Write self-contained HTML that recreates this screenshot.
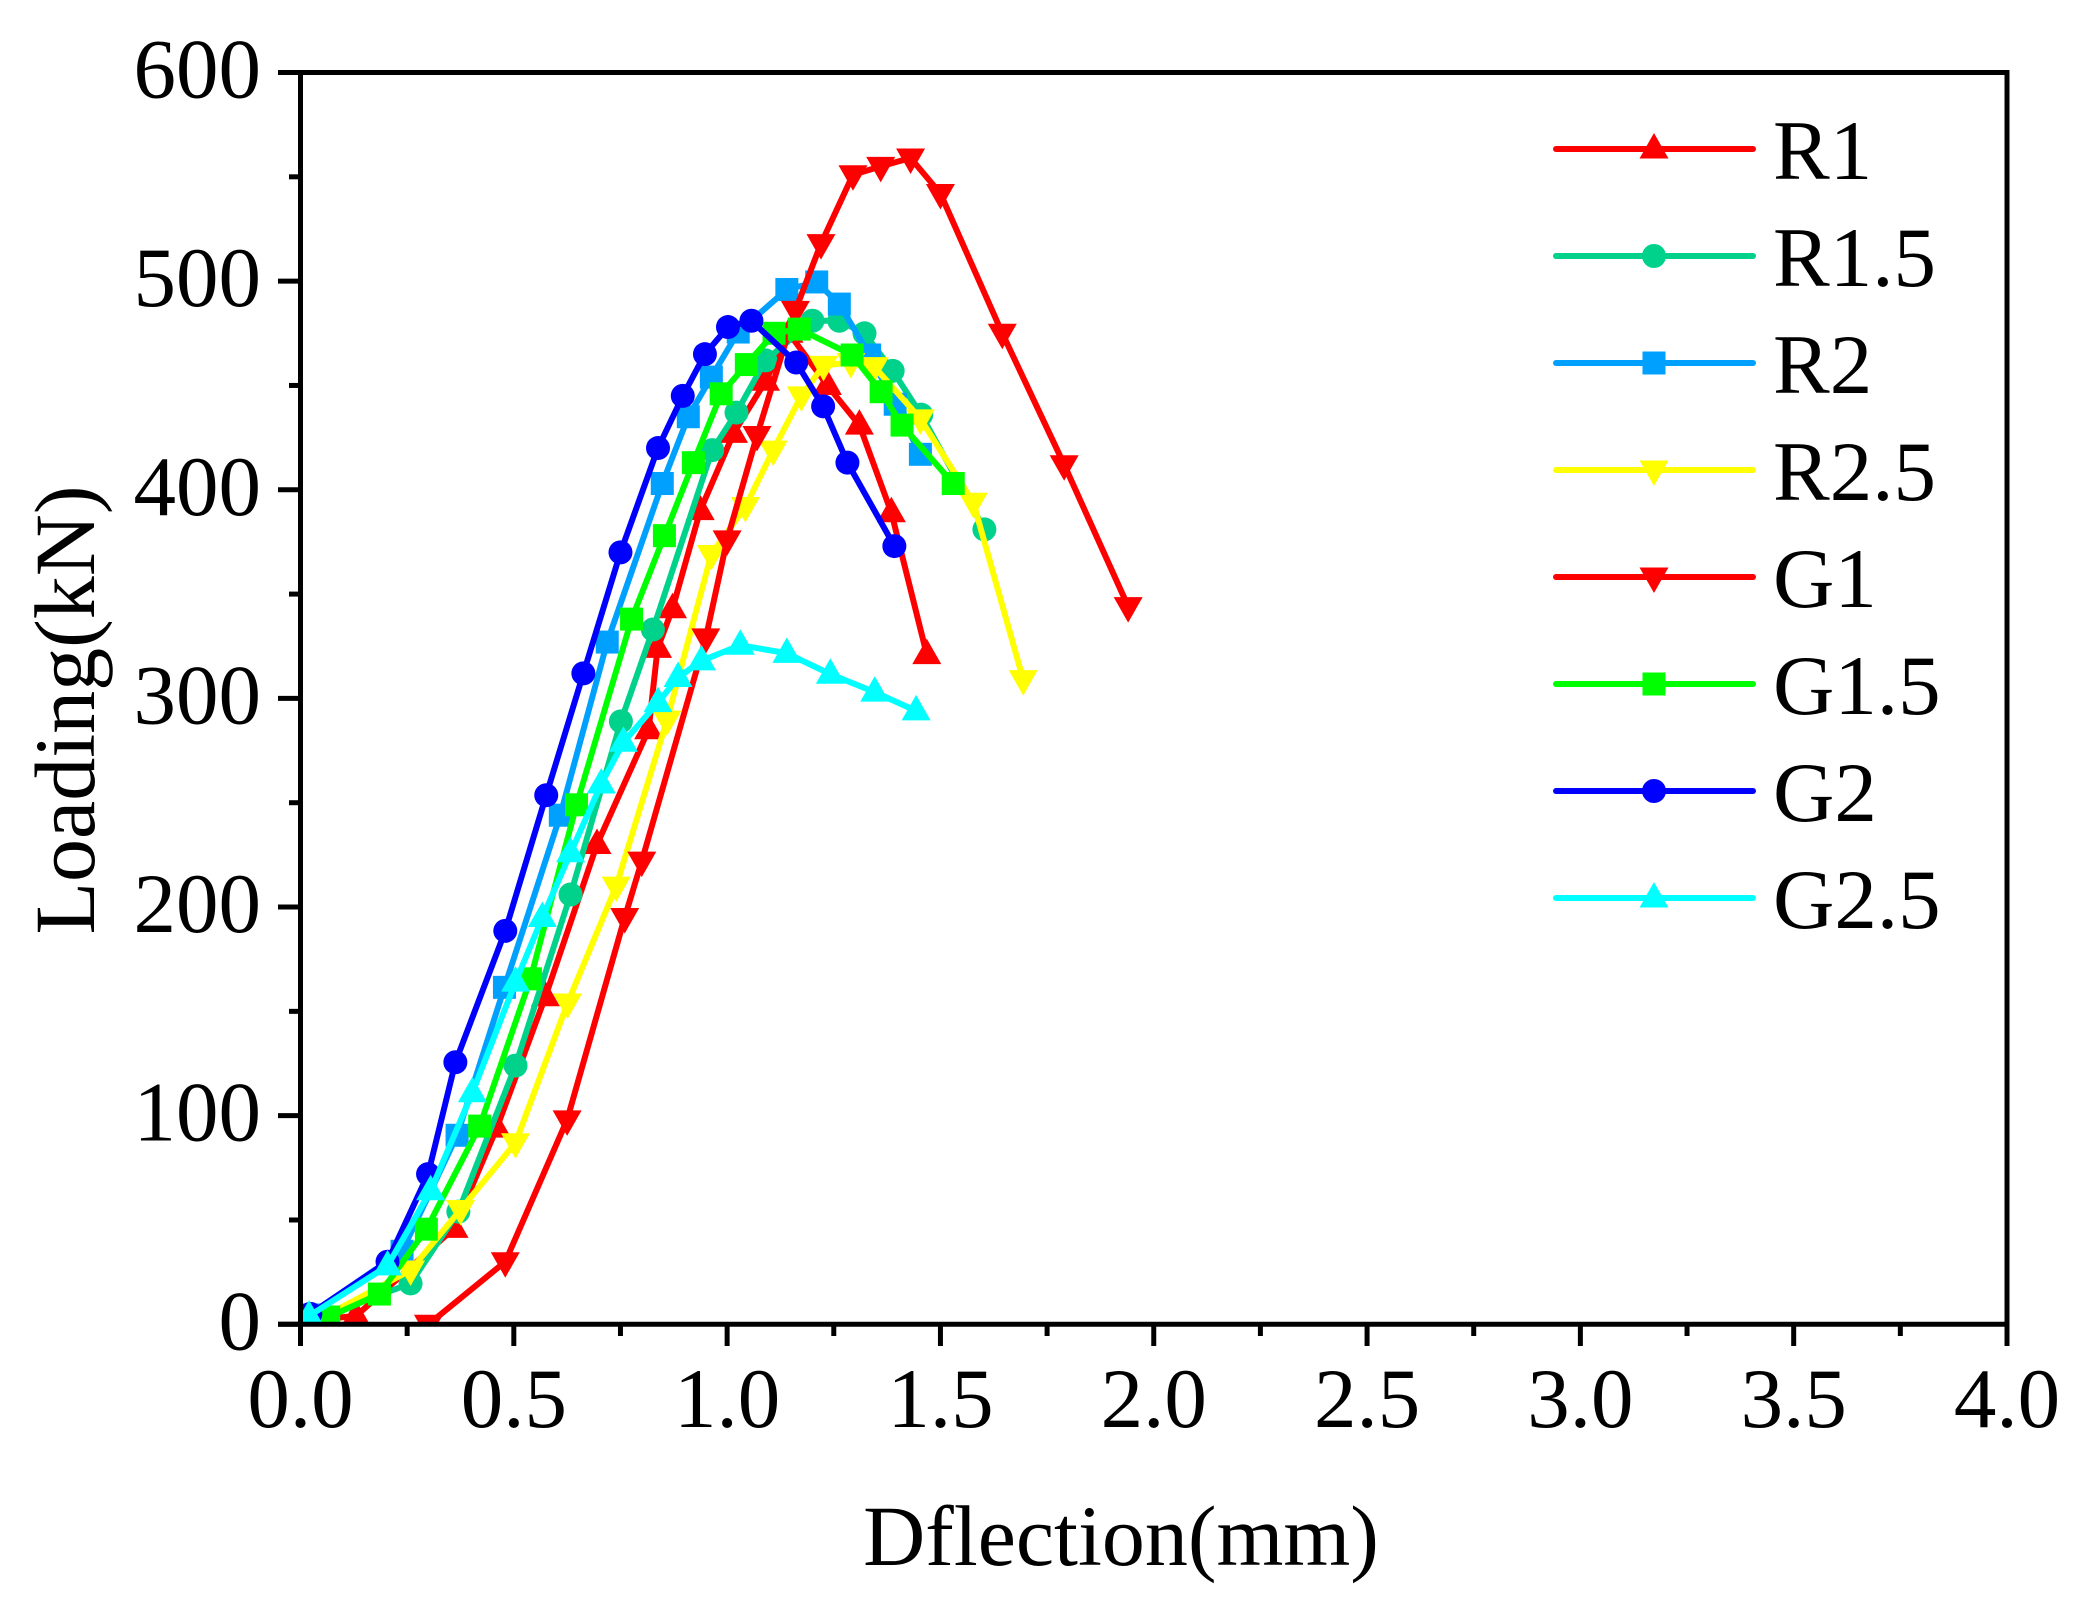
<!DOCTYPE html>
<html lang="en">
<head>
<meta charset="utf-8">
<title>Loading vs Deflection</title>
<style>
html,body{margin:0;padding:0;background:#fff;}
body{width:2091px;height:1608px;overflow:hidden;}
svg{display:block;}
text{font-family:"Liberation Serif",serif;fill:#000;}
</style>
</head>
<body>
<svg id="chart" xmlns="http://www.w3.org/2000/svg" width="2091" height="1608" viewBox="0 0 2091 1608">
<rect x="0" y="0" width="2091" height="1608" fill="#fff"/>
<defs><clipPath id="plot-clip"><rect x="300" y="72" width="1707" height="1252"/></clipPath></defs>
<g id="series-layer" clip-path="url(#plot-clip)"></g>
<g id="axis-layer"></g>
<g id="legend-layer"></g>
<text x="1121" y="1565" font-size="86" text-anchor="middle">Dflection(mm)</text>
<text transform="translate(94,710) rotate(-90)" font-size="86" text-anchor="middle">Loading(kN)</text>
</svg>
<script>
const seriesNames = ['R1','R1.5','R2','R2.5','G1','G1.5','G2','G2.5'];
const seriesColors = ['#ff0000','#00d28c','#00a0ff','#ffff00','#ff0000','#00ff00','#0000ff','#00ffff'];
const seriesMarkers = ['up','circle','square','down','down','square','circle','up'];

const r1X = [0.024,0.13,0.36,0.46,0.574,0.695,0.816,0.837,0.872,0.937,1.015,1.09,1.145,1.235,1.31,1.385,1.468];
const r1Y = [2,4,46,94,157,230,285,324,343,390,427,452,475,450,431,389,321];
const r15X = [0.03,0.258,0.37,0.504,0.633,0.751,0.826,0.965,1.022,1.09,1.2,1.263,1.322,1.388,1.455,1.603];
const r15Y = [2,19.6,54,124,206,289,333,419,437,462,481,481,475,457,436,381];
const r2X = [0.02,0.238,0.367,0.478,0.609,0.719,0.848,0.909,0.963,1.026,1.14,1.21,1.263,1.334,1.394,1.453];
const r2Y = [4.5,35,90.6,161.5,244,327,403,435,454,475.6,496,499.6,489,464.6,441,417];
const r25X = [0.05,0.258,0.375,0.504,0.626,0.74,0.859,0.963,1.043,1.108,1.174,1.226,1.29,1.345,1.453,1.577,1.694];
const r25Y = [3,26,55,87,154,210,289.6,369,392,419,445,459.6,461,459,434,394,309];
const g1X = [0.3,0.48,0.625,0.76,0.8,0.95,1.0,1.07,1.16,1.22,1.295,1.36,1.43,1.5,1.645,1.79,1.94];
const g1Y = [0,30,98,195,222,329,376,426,486,518,551,555,559,542,475,412,344];
const g15X = [0.066,0.185,0.295,0.42,0.539,0.647,0.776,0.853,0.921,0.986,1.045,1.11,1.169,1.293,1.361,1.41,1.53];
const g15Y = [3.5,14.5,45.6,95,165.6,249,338,378,413,446,460,475,477,464.6,447,431,403];
const g2X = [0.023,0.204,0.299,0.363,0.48,0.576,0.663,0.75,0.838,0.896,0.948,1.002,1.057,1.162,1.225,1.282,1.392];
const g2Y = [5,30,72,125.6,188.6,253.6,312,370,420,445,465,478,481,461,440,413,373];
const g25X = [0.02,0.204,0.305,0.403,0.504,0.567,0.633,0.705,0.757,0.838,0.885,0.94,1.031,1.14,1.242,1.346,1.443];
const g25Y = [4,28,64,111,164,195,226,259,279,298,310,318,325.5,321.6,311.6,303,294];

const seriesXValues = [r1X,r15X,r2X,r25X,g1X,g15X,g2X,g25X];
const seriesYValues = [r1Y,r15Y,r2Y,r25Y,g1Y,g15Y,g2Y,g25Y];

const xTickLabels = ['0.0','0.5','1.0','1.5','2.0','2.5','3.0','3.5','4.0'];
const yTickLabels = ['0','100','200','300','400','500','600'];
const xMinorValues = [0.25,0.75,1.25,1.75,2.25,2.75,3.25,3.75];
const yMinorValues = [50,150,250,350,450,550];

const NS = 'http://www.w3.org/2000/svg';
const X0 = 300.5, X1 = 2007, Y0 = 1324.3, Y1 = 72.5;
function sx(v){ return X0 + (v / 4) * (X1 - X0); }
function sy(v){ return Y0 - (v / 600) * (Y0 - Y1); }

function make(tag, attrs, parent){
  const el = document.createElementNS(NS, tag);
  for (const k in attrs) el.setAttribute(k, attrs[k]);
  parent.appendChild(el);
  return el;
}

function drawMarker(kind, x, y, color, parent){
  let el;
  if (kind === 'up') {
    el = make('polygon', {points:(x-14.5)+','+(y+9.5)+' '+x+','+(y-16)+' '+(x+14.5)+','+(y+9.5), fill:color}, parent);
  } else if (kind === 'down') {
    el = make('polygon', {points:(x-14.5)+','+(y-9.5)+' '+x+','+(y+16)+' '+(x+14.5)+','+(y-9.5), fill:color}, parent);
  } else if (kind === 'square') {
    el = make('rect', {x:x-11.5, y:y-11.5, width:23, height:23, fill:color}, parent);
  } else {
    el = make('circle', {cx:x, cy:y, r:12, fill:color}, parent);
  }
  return el;
}

const seriesLayer = document.getElementById('series-layer');
seriesNames.forEach(function(name, i){
  const g = make('g', {}, seriesLayer);
  
  
  const xs = seriesXValues[i], ys = seriesYValues[i];
  const pts = xs.map(function(v, j){ return sx(v).toFixed(1) + ',' + sy(ys[j]).toFixed(1); }).join(' ');
  const line = make('polyline', {points:pts, fill:'none', stroke:seriesColors[i], 'stroke-width':6, 'stroke-linejoin':'round', 'stroke-linecap':'round'}, g);
  
  
  xs.forEach(function(v, j){
    const m = drawMarker(seriesMarkers[i], sx(v), sy(ys[j]), seriesColors[i], g);
    
    
  });
});

const axisLayer = document.getElementById('axis-layer');
function axisLine(x1, y1, x2, y2, w, label){
  const l = make('line', {x1:x1, y1:y1, x2:x2, y2:y2, stroke:'#000', 'stroke-width':w}, axisLayer);
  
  
}
axisLine(300.5, 70, 300.5, 1346, 5, 'y-axis-line');
axisLine(278, 1324.3, 2009.5, 1324.3, 5, 'x-axis-line');
axisLine(278, 72.5, 2009.5, 72.5, 5, 'top-border');
axisLine(2007, 70, 2007, 1346, 5, 'right-border');

xTickLabels.forEach(function(t){
  const x = sx(parseFloat(t));
  axisLine(x, 1324, x, 1346, 5, 'x-major-tick');
  const el = make('text', {x:x, y:1427, 'font-size':85, 'text-anchor':'middle'}, axisLayer);
  el.textContent = t;
  
  
});
yTickLabels.forEach(function(t){
  const y = sy(parseFloat(t));
  axisLine(278, y, 300, y, 5, 'y-major-tick');
  const el = make('text', {x:261, y:y + 25, 'font-size':85, 'text-anchor':'end'}, axisLayer);
  el.textContent = t;
  
  
});
xMinorValues.forEach(function(v){ axisLine(sx(v), 1324, sx(v), 1336, 5, 'x-minor-tick'); });
yMinorValues.forEach(function(v){ axisLine(289, sy(v), 300, sy(v), 5, 'y-minor-tick'); });

const legendLayer = document.getElementById('legend-layer');
seriesNames.forEach(function(name, i){
  const y = 149 + i * 107;
  const g = make('g', {}, legendLayer);
  
  
  const line = make('line', {x1:1556, y1:y, x2:1753, y2:y, stroke:seriesColors[i], 'stroke-width':6, 'stroke-linecap':'round'}, g);
  
  
  const m = drawMarker(seriesMarkers[i], 1654, y, seriesColors[i], g);
  
  
  const t = make('text', {x:1773, y:y + 30, 'font-size':85}, g);
  t.textContent = name;
  
  
});
</script>
</body>
</html>
